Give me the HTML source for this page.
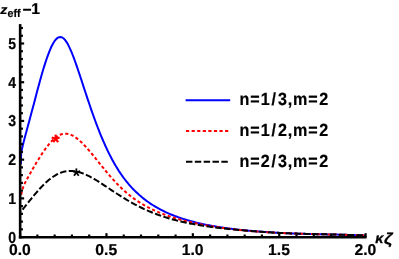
<!DOCTYPE html>
<html><head><meta charset="utf-8"><title>plot</title>
<style>
html,body{margin:0;padding:0;background:#fff;}
body{width:399px;height:259px;overflow:hidden;}
svg{display:block;will-change:transform;}
text{font-family:"Liberation Sans",sans-serif;font-weight:bold;font-size:16px;fill:#000;stroke:#000;stroke-width:0.22px;stroke-linejoin:round;text-rendering:geometricPrecision;}
</style></head><body>
<svg width="399" height="259" viewBox="0 0 399 259">
<rect width="399" height="259" fill="#fff"/>
<g fill="none" stroke-width="2" stroke-linejoin="round">
<path id="cb" stroke="#0000ff" d="M20.90,164.30 L20.93,161.50 L20.98,158.50 L21.08,155.50 L21.25,153.00 L21.50,151.00 L21.90,149.20 L22.57,146.41 L22.76,145.60 L22.96,144.76 L23.17,143.90 L23.39,143.00 L23.62,142.08 L23.86,141.13 L24.12,140.14 L24.38,139.13 L24.65,138.09 L24.94,137.02 L25.23,135.91 L25.54,134.77 L25.85,133.60 L26.17,132.39 L26.51,131.14 L26.86,129.86 L27.21,128.55 L27.58,127.19 L27.95,125.80 L28.34,124.37 L28.74,122.90 L29.86,118.74 L30.99,114.56 L32.12,110.36 L33.24,106.14 L34.37,101.89 L35.50,97.62 L36.62,93.35 L37.75,89.10 L38.88,84.91 L40.00,80.79 L41.13,76.76 L42.26,72.84 L43.38,69.05 L44.51,65.38 L45.64,61.87 L46.76,58.51 L47.89,55.33 L49.02,52.33 L50.14,49.55 L51.27,47.00 L52.40,44.71 L53.52,42.70 L54.65,40.97 L55.78,39.55 L56.90,38.43 L58.03,37.64 L59.16,37.16 L60.28,37.02 L61.41,37.19 L62.54,37.70 L63.66,38.52 L64.79,39.66 L65.92,41.11 L67.04,42.85 L68.17,44.85 L69.30,47.10 L70.42,49.56 L71.55,52.20 L72.68,55.00 L73.80,57.95 L74.93,61.01 L76.06,64.18 L77.18,67.43 L78.31,70.74 L79.44,74.11 L80.56,77.51 L81.69,80.93 L82.82,84.37 L83.94,87.82 L85.07,91.25 L86.20,94.67 L87.32,98.07 L88.45,101.44 L89.58,104.77 L90.70,108.07 L91.83,111.32 L92.96,114.52 L94.08,117.66 L95.21,120.75 L96.34,123.79 L97.46,126.76 L98.59,129.67 L99.72,132.51 L100.84,135.29 L101.97,138.00 L103.10,140.64 L104.22,143.22 L105.35,145.74 L106.48,148.18 L107.60,150.56 L108.73,152.88 L109.85,155.13 L110.98,157.31 L112.11,159.43 L113.23,161.50 L114.36,163.50 L115.49,165.44 L116.61,167.32 L117.74,169.15 L118.87,170.92 L119.99,172.63 L121.12,174.30 L122.25,175.91 L123.37,177.47 L124.50,178.98 L125.63,180.44 L126.75,181.86 L127.88,183.24 L129.01,184.57 L130.13,185.86 L131.26,187.11 L132.39,188.32 L133.51,189.50 L134.64,190.64 L135.77,191.75 L136.89,192.82 L138.02,193.86 L139.15,194.88 L140.27,195.86 L141.40,196.81 L142.53,197.74 L143.65,198.64 L144.78,199.52 L145.91,200.37 L147.03,201.20 L148.16,202.01 L149.29,202.79 L150.41,203.55 L151.54,204.29 L152.67,205.01 L153.79,205.72 L154.92,206.40 L156.05,207.07 L157.17,207.71 L158.30,208.34 L159.43,208.96 L160.55,209.56 L161.68,210.14 L162.81,210.71 L163.93,211.26 L165.06,211.80 L166.19,212.33 L167.31,212.84 L168.44,213.34 L169.57,213.83 L170.69,214.31 L171.82,214.77 L172.95,215.22 L174.07,215.67 L175.20,216.10 L176.33,216.52 L177.45,216.93 L178.58,217.33 L179.71,217.72 L180.83,218.11 L181.96,218.48 L183.09,218.84 L184.21,219.20 L185.34,219.55 L186.47,219.89 L187.59,220.22 L188.72,220.55 L189.85,220.86 L190.97,221.17 L192.10,221.48 L193.23,221.77 L194.35,222.06 L195.48,222.35 L196.61,222.63 L197.73,222.90 L198.86,223.16 L199.99,223.42 L201.11,223.68 L202.24,223.92 L203.37,224.17 L204.49,224.40 L205.62,224.64 L206.75,224.86 L207.87,225.09 L209.00,225.31 L210.12,225.52 L211.25,225.73 L212.38,225.93 L213.50,226.13 L214.63,226.33 L215.76,226.52 L216.88,226.71 L218.01,226.89 L219.14,227.08 L220.26,227.25 L221.39,227.43 L222.52,227.60 L223.64,227.76 L224.77,227.92 L225.90,228.08 L227.02,228.24 L228.15,228.39 L229.28,228.54 L230.40,228.69 L231.53,228.83 L232.66,228.98 L233.78,229.11 L234.91,229.25 L236.04,229.38 L237.16,229.51 L238.29,229.64 L239.42,229.76 L240.54,229.88 L241.67,230.00 L242.80,230.12 L243.92,230.23 L245.05,230.34 L246.18,230.45 L247.30,230.56 L248.43,230.66 L249.56,230.76 L250.68,230.86 L251.81,230.96 L252.94,231.06 L254.06,231.15 L255.19,231.24 L256.32,231.33 L257.44,231.42 L258.57,231.51 L259.70,231.59 L260.82,231.68 L261.95,231.76 L263.08,231.84 L264.20,231.92 L265.33,232.00 L266.46,232.07 L267.58,232.15 L268.71,232.22 L269.84,232.29 L270.96,232.36 L272.09,232.43 L273.22,232.50 L274.34,232.57 L275.47,232.64 L276.60,232.70 L277.72,232.76 L278.85,232.83 L279.98,232.89 L281.10,232.95 L282.23,233.00 L283.36,233.06 L284.48,233.11 L285.61,233.17 L286.74,233.22 L287.86,233.27 L288.99,233.32 L290.12,233.37 L291.24,233.41 L292.37,233.46 L293.50,233.50 L294.62,233.54 L295.75,233.58 L296.88,233.62 L298.00,233.66 L299.13,233.69 L300.26,233.73 L301.38,233.76 L302.51,233.80 L303.64,233.83 L304.76,233.86 L305.89,233.89 L307.02,233.92 L308.14,233.95 L309.27,233.98 L310.40,234.01 L311.52,234.03 L312.65,234.06 L313.78,234.08 L314.90,234.11 L316.03,234.14 L317.15,234.16 L318.28,234.19 L319.41,234.21 L320.53,234.23 L321.66,234.26 L322.79,234.28 L323.91,234.31 L325.04,234.33 L326.17,234.36 L327.29,234.38 L328.42,234.41 L329.55,234.43 L330.67,234.46 L331.80,234.48 L332.93,234.51 L334.05,234.54 L335.18,234.56 L336.31,234.59 L337.43,234.62 L338.56,234.65 L339.69,234.68 L340.81,234.71 L341.94,234.74 L343.07,234.77 L344.19,234.80 L345.32,234.83 L346.45,234.86 L347.57,234.90 L348.70,234.93 L349.83,234.96 L350.95,235.00 L352.08,235.03 L353.21,235.07 L354.33,235.11 L355.46,235.14 L356.59,235.18 L357.71,235.22 L358.84,235.26 L359.97,235.30 L361.09,235.33 L362.22,235.37 L363.35,235.41 L364.47,235.45 L365.60,235.49"/>
<path id="cr" stroke="#ff0000" stroke-dasharray="3.2 2.38" stroke-dashoffset="-1.5" d="M20.89,196.29 L20.90,196.26 L20.92,196.16 L20.94,196.00 L20.98,195.78 L21.02,195.50 L21.08,195.18 L21.15,194.80 L21.22,194.39 L21.31,193.95 L21.41,193.47 L21.52,192.98 L21.64,192.46 L21.77,191.92 L21.91,191.37 L22.05,190.81 L22.21,190.24 L22.38,189.66 L22.57,189.08 L22.76,188.50 L22.96,187.91 L23.17,187.32 L23.39,186.72 L23.62,186.13 L23.86,185.54 L24.12,184.94 L24.38,184.34 L24.65,183.74 L24.94,183.14 L25.23,182.53 L25.54,181.92 L25.85,181.30 L26.17,180.68 L26.51,180.05 L26.86,179.41 L27.21,178.75 L27.58,178.09 L27.95,177.41 L28.34,176.72 L28.74,176.01 L29.86,174.00 L30.99,172.01 L32.12,170.03 L33.24,168.07 L34.37,166.14 L35.50,164.22 L36.62,162.34 L37.75,160.48 L38.88,158.66 L40.00,156.87 L41.13,155.11 L42.26,153.40 L43.38,151.72 L44.51,150.09 L45.64,148.51 L46.76,146.99 L47.89,145.52 L49.02,144.13 L50.14,142.80 L51.27,141.55 L52.40,140.38 L53.52,139.29 L54.65,138.29 L55.78,137.38 L56.90,136.57 L58.03,135.85 L59.16,135.23 L60.28,134.71 L61.41,134.29 L62.54,133.98 L63.66,133.77 L64.79,133.66 L65.92,133.66 L67.04,133.76 L68.17,133.96 L69.30,134.25 L70.42,134.64 L71.55,135.12 L72.68,135.67 L73.80,136.31 L74.93,137.02 L76.06,137.79 L77.18,138.64 L78.31,139.54 L79.44,140.50 L80.56,141.52 L81.69,142.58 L82.82,143.68 L83.94,144.83 L85.07,146.02 L86.20,147.24 L87.32,148.50 L88.45,149.78 L89.58,151.08 L90.70,152.41 L91.83,153.76 L92.96,155.12 L94.08,156.50 L95.21,157.89 L96.34,159.29 L97.46,160.70 L98.59,162.11 L99.72,163.52 L100.84,164.93 L101.97,166.33 L103.10,167.73 L104.22,169.12 L105.35,170.50 L106.48,171.86 L107.60,173.21 L108.73,174.54 L109.85,175.86 L110.98,177.15 L112.11,178.43 L113.23,179.68 L114.36,180.92 L115.49,182.13 L116.61,183.32 L117.74,184.48 L118.87,185.63 L119.99,186.74 L121.12,187.84 L122.25,188.91 L123.37,189.96 L124.50,190.98 L125.63,191.98 L126.75,192.95 L127.88,193.91 L129.01,194.83 L130.13,195.74 L131.26,196.62 L132.39,197.48 L133.51,198.31 L134.64,199.13 L135.77,199.92 L136.89,200.69 L138.02,201.44 L139.15,202.17 L140.27,202.88 L141.40,203.57 L142.53,204.25 L143.65,204.90 L144.78,205.54 L145.91,206.17 L147.03,206.78 L148.16,207.37 L149.29,207.95 L150.41,208.52 L151.54,209.07 L152.67,209.61 L153.79,210.14 L154.92,210.65 L156.05,211.15 L157.17,211.64 L158.30,212.12 L159.43,212.59 L160.55,213.05 L161.68,213.49 L162.81,213.93 L163.93,214.36 L165.06,214.78 L166.19,215.18 L167.31,215.58 L168.44,215.97 L169.57,216.36 L170.69,216.73 L171.82,217.10 L172.95,217.46 L174.07,217.81 L175.20,218.15 L176.33,218.49 L177.45,218.82 L178.58,219.14 L179.71,219.46 L180.83,219.77 L181.96,220.07 L183.09,220.37 L184.21,220.66 L185.34,220.95 L186.47,221.23 L187.59,221.50 L188.72,221.77 L189.85,222.04 L190.97,222.29 L192.10,222.55 L193.23,222.80 L194.35,223.04 L195.48,223.28 L196.61,223.52 L197.73,223.75 L198.86,223.98 L199.99,224.20 L201.11,224.42 L202.24,224.63 L203.37,224.84 L204.49,225.05 L205.62,225.25 L206.75,225.45 L207.87,225.65 L209.00,225.84 L210.12,226.03 L211.25,226.22 L212.38,226.40 L213.50,226.58 L214.63,226.75 L215.76,226.93 L216.88,227.10 L218.01,227.26 L219.14,227.43 L220.26,227.59 L221.39,227.75 L222.52,227.90 L223.64,228.06 L224.77,228.21 L225.90,228.36 L227.02,228.50 L228.15,228.64 L229.28,228.79 L230.40,228.92 L231.53,229.06 L232.66,229.19 L233.78,229.33 L234.91,229.46 L236.04,229.58 L237.16,229.71 L238.29,229.83 L239.42,229.95 L240.54,230.07 L241.67,230.19 L242.80,230.30 L243.92,230.41 L245.05,230.52 L246.18,230.63 L247.30,230.74 L248.43,230.84 L249.56,230.94 L250.68,231.04 L251.81,231.14 L252.94,231.23 L254.06,231.33 L255.19,231.42 L256.32,231.51 L257.44,231.59 L258.57,231.68 L259.70,231.76 L260.82,231.84 L261.95,231.92 L263.08,231.99 L264.20,232.06 L265.33,232.14 L266.46,232.21 L267.58,232.27 L268.71,232.34 L269.84,232.41 L270.96,232.47 L272.09,232.53 L273.22,232.59 L274.34,232.65 L275.47,232.71 L276.60,232.77 L277.72,232.83 L278.85,232.88 L279.98,232.94 L281.10,232.99 L282.23,233.04 L283.36,233.09 L284.48,233.14 L285.61,233.19 L286.74,233.24 L287.86,233.28 L288.99,233.33 L290.12,233.37 L291.24,233.42 L292.37,233.46 L293.50,233.50 L294.62,233.54 L295.75,233.58 L296.88,233.62 L298.00,233.66 L299.13,233.69 L300.26,233.73 L301.38,233.76 L302.51,233.80 L303.64,233.83 L304.76,233.86 L305.89,233.89 L307.02,233.92 L308.14,233.95 L309.27,233.98 L310.40,234.01 L311.52,234.03 L312.65,234.06 L313.78,234.08 L314.90,234.11 L316.03,234.14 L317.15,234.16 L318.28,234.19 L319.41,234.21 L320.53,234.23 L321.66,234.26 L322.79,234.28 L323.91,234.31 L325.04,234.33 L326.17,234.36 L327.29,234.38 L328.42,234.41 L329.55,234.43 L330.67,234.46 L331.80,234.48 L332.93,234.51 L334.05,234.54 L335.18,234.56 L336.31,234.59 L337.43,234.62 L338.56,234.65 L339.69,234.68 L340.81,234.71 L341.94,234.74 L343.07,234.77 L344.19,234.80 L345.32,234.83 L346.45,234.86 L347.57,234.90 L348.70,234.93 L349.83,234.96 L350.95,235.00 L352.08,235.03 L353.21,235.07 L354.33,235.11 L355.46,235.14 L356.59,235.18 L357.71,235.22 L358.84,235.26 L359.97,235.30 L361.09,235.33 L362.22,235.37 L363.35,235.41 L364.47,235.45 L365.60,235.49"/>
<path id="ck" stroke="#000" stroke-dasharray="6.4 2.44" stroke-dashoffset="-2.8" d="M20.89,211.80 L20.90,211.79 L20.92,211.77 L20.94,211.73 L20.98,211.68 L21.02,211.61 L21.08,211.53 L21.15,211.43 L21.22,211.33 L21.31,211.20 L21.41,211.07 L21.52,210.92 L21.64,210.76 L21.77,210.59 L21.91,210.41 L22.05,210.21 L22.21,210.00 L22.38,209.79 L22.57,209.55 L22.76,209.31 L22.96,209.06 L23.17,208.79 L23.39,208.51 L23.62,208.22 L23.86,207.91 L24.12,207.60 L24.38,207.27 L24.65,206.93 L24.94,206.58 L25.23,206.21 L25.54,205.83 L25.85,205.44 L26.17,205.04 L26.51,204.62 L26.86,204.19 L27.21,203.75 L27.58,203.29 L27.95,202.82 L28.34,202.34 L28.74,201.85 L29.86,200.45 L30.99,199.06 L32.12,197.67 L33.24,196.30 L34.37,194.94 L35.50,193.60 L36.62,192.28 L37.75,190.99 L38.88,189.73 L40.00,188.50 L41.13,187.29 L42.26,186.12 L43.38,184.98 L44.51,183.88 L45.64,182.81 L46.76,181.78 L47.89,180.79 L49.02,179.85 L50.14,178.94 L51.27,178.08 L52.40,177.26 L53.52,176.49 L54.65,175.77 L55.78,175.10 L56.90,174.48 L58.03,173.91 L59.16,173.39 L60.28,172.92 L61.41,172.51 L62.54,172.14 L63.66,171.83 L64.79,171.57 L65.92,171.36 L67.04,171.20 L68.17,171.08 L69.30,171.01 L70.42,170.99 L71.55,171.01 L72.68,171.08 L73.80,171.19 L74.93,171.33 L76.06,171.52 L77.18,171.75 L78.31,172.01 L79.44,172.31 L80.56,172.65 L81.69,173.02 L82.82,173.42 L83.94,173.85 L85.07,174.31 L86.20,174.80 L87.32,175.32 L88.45,175.86 L89.58,176.43 L90.70,177.02 L91.83,177.63 L92.96,178.26 L94.08,178.91 L95.21,179.57 L96.34,180.25 L97.46,180.95 L98.59,181.65 L99.72,182.36 L100.84,183.09 L101.97,183.82 L103.10,184.56 L104.22,185.30 L105.35,186.04 L106.48,186.79 L107.60,187.54 L108.73,188.29 L109.85,189.04 L110.98,189.80 L112.11,190.54 L113.23,191.29 L114.36,192.03 L115.49,192.77 L116.61,193.51 L117.74,194.23 L118.87,194.96 L119.99,195.68 L121.12,196.39 L122.25,197.09 L123.37,197.79 L124.50,198.47 L125.63,199.15 L126.75,199.83 L127.88,200.49 L129.01,201.14 L130.13,201.79 L131.26,202.43 L132.39,203.05 L133.51,203.67 L134.64,204.28 L135.77,204.88 L136.89,205.47 L138.02,206.05 L139.15,206.62 L140.27,207.18 L141.40,207.73 L142.53,208.27 L143.65,208.80 L144.78,209.33 L145.91,209.84 L147.03,210.34 L148.16,210.83 L149.29,211.32 L150.41,211.79 L151.54,212.26 L152.67,212.72 L153.79,213.16 L154.92,213.60 L156.05,214.03 L157.17,214.45 L158.30,214.86 L159.43,215.27 L160.55,215.66 L161.68,216.05 L162.81,216.43 L163.93,216.80 L165.06,217.16 L166.19,217.52 L167.31,217.86 L168.44,218.20 L169.57,218.53 L170.69,218.86 L171.82,219.18 L172.95,219.49 L174.07,219.79 L175.20,220.09 L176.33,220.38 L177.45,220.67 L178.58,220.95 L179.71,221.22 L180.83,221.49 L181.96,221.75 L183.09,222.01 L184.21,222.26 L185.34,222.50 L186.47,222.74 L187.59,222.98 L188.72,223.21 L189.85,223.43 L190.97,223.65 L192.10,223.87 L193.23,224.08 L194.35,224.29 L195.48,224.49 L196.61,224.69 L197.73,224.89 L198.86,225.08 L199.99,225.26 L201.11,225.45 L202.24,225.63 L203.37,225.80 L204.49,225.97 L205.62,226.14 L206.75,226.31 L207.87,226.47 L209.00,226.63 L210.12,226.78 L211.25,226.93 L212.38,227.08 L213.50,227.23 L214.63,227.37 L215.76,227.51 L216.88,227.65 L218.01,227.78 L219.14,227.92 L220.26,228.05 L221.39,228.18 L222.52,228.30 L223.64,228.43 L224.77,228.55 L225.90,228.67 L227.02,228.79 L228.15,228.90 L229.28,229.02 L230.40,229.13 L231.53,229.25 L232.66,229.36 L233.78,229.46 L234.91,229.57 L236.04,229.68 L237.16,229.78 L238.29,229.89 L239.42,229.99 L240.54,230.09 L241.67,230.19 L242.80,230.29 L243.92,230.38 L245.05,230.48 L246.18,230.58 L247.30,230.67 L248.43,230.76 L249.56,230.86 L250.68,230.95 L251.81,231.04 L252.94,231.13 L254.06,231.22 L255.19,231.30 L256.32,231.39 L257.44,231.48 L258.57,231.56 L259.70,231.65 L260.82,231.73 L261.95,231.82 L263.08,231.90 L264.20,231.98 L265.33,232.06 L266.46,232.13 L267.58,232.21 L268.71,232.29 L269.84,232.36 L270.96,232.43 L272.09,232.50 L273.22,232.57 L274.34,232.63 L275.47,232.70 L276.60,232.76 L277.72,232.82 L278.85,232.88 L279.98,232.94 L281.10,232.99 L282.23,233.05 L283.36,233.10 L284.48,233.15 L285.61,233.20 L286.74,233.24 L287.86,233.29 L288.99,233.33 L290.12,233.38 L291.24,233.42 L292.37,233.46 L293.50,233.50 L294.62,233.54 L295.75,233.58 L296.88,233.62 L298.00,233.66 L299.13,233.69 L300.26,233.73 L301.38,233.76 L302.51,233.80 L303.64,233.83 L304.76,233.86 L305.89,233.89 L307.02,233.92 L308.14,233.95 L309.27,233.98 L310.40,234.01 L311.52,234.03 L312.65,234.06 L313.78,234.08 L314.90,234.11 L316.03,234.14 L317.15,234.16 L318.28,234.19 L319.41,234.21 L320.53,234.23 L321.66,234.26 L322.79,234.28 L323.91,234.31 L325.04,234.33 L326.17,234.36 L327.29,234.38 L328.42,234.41 L329.55,234.43 L330.67,234.46 L331.80,234.48 L332.93,234.51 L334.05,234.54 L335.18,234.56 L336.31,234.59 L337.43,234.62 L338.56,234.65 L339.69,234.68 L340.81,234.71 L341.94,234.74 L343.07,234.77 L344.19,234.80 L345.32,234.83 L346.45,234.86 L347.57,234.90 L348.70,234.93 L349.83,234.96 L350.95,235.00 L352.08,235.03 L353.21,235.07 L354.33,235.11 L355.46,235.14 L356.59,235.18 L357.71,235.22 L358.84,235.26 L359.97,235.30 L361.09,235.33 L362.22,235.37 L363.35,235.41 L364.47,235.45 L365.60,235.49"/>
</g>
<g stroke="#ff0000" stroke-width="2.2" stroke-linecap="butt"><line x1="55.66" y1="138.75" x2="55.66" y2="134.60"/><line x1="55.66" y1="138.75" x2="59.61" y2="137.47"/><line x1="55.66" y1="138.75" x2="58.10" y2="142.11"/><line x1="55.66" y1="138.75" x2="53.22" y2="142.11"/><line x1="55.66" y1="138.75" x2="51.71" y2="137.47"/></g>
<g stroke="#000" stroke-width="1.8" stroke-linecap="butt"><line x1="76.36" y1="172.45" x2="76.36" y2="168.45"/><line x1="76.36" y1="172.45" x2="80.16" y2="171.21"/><line x1="76.36" y1="172.45" x2="78.71" y2="175.69"/><line x1="76.36" y1="172.45" x2="74.01" y2="175.69"/><line x1="76.36" y1="172.45" x2="72.56" y2="171.21"/></g>
<g stroke="#000" stroke-width="2.2"><line x1="20.15" y1="237.10" x2="24.15" y2="237.10"/><line x1="20.15" y1="229.36" x2="22.95" y2="229.36"/><line x1="20.15" y1="221.61" x2="22.95" y2="221.61"/><line x1="20.15" y1="213.87" x2="22.95" y2="213.87"/><line x1="20.15" y1="206.12" x2="22.95" y2="206.12"/><line x1="20.15" y1="198.38" x2="24.15" y2="198.38"/><line x1="20.15" y1="190.64" x2="22.95" y2="190.64"/><line x1="20.15" y1="182.89" x2="22.95" y2="182.89"/><line x1="20.15" y1="175.15" x2="22.95" y2="175.15"/><line x1="20.15" y1="167.40" x2="22.95" y2="167.40"/><line x1="20.15" y1="159.66" x2="24.15" y2="159.66"/><line x1="20.15" y1="151.92" x2="22.95" y2="151.92"/><line x1="20.15" y1="144.17" x2="22.95" y2="144.17"/><line x1="20.15" y1="136.43" x2="22.95" y2="136.43"/><line x1="20.15" y1="128.68" x2="22.95" y2="128.68"/><line x1="20.15" y1="120.94" x2="24.15" y2="120.94"/><line x1="20.15" y1="113.20" x2="22.95" y2="113.20"/><line x1="20.15" y1="105.45" x2="22.95" y2="105.45"/><line x1="20.15" y1="97.71" x2="22.95" y2="97.71"/><line x1="20.15" y1="89.96" x2="22.95" y2="89.96"/><line x1="20.15" y1="82.22" x2="24.15" y2="82.22"/><line x1="20.15" y1="74.48" x2="22.95" y2="74.48"/><line x1="20.15" y1="66.73" x2="22.95" y2="66.73"/><line x1="20.15" y1="58.99" x2="22.95" y2="58.99"/><line x1="20.15" y1="51.24" x2="22.95" y2="51.24"/><line x1="20.15" y1="43.50" x2="24.15" y2="43.50"/><line x1="20.15" y1="35.76" x2="22.95" y2="35.76"/><line x1="20.15" y1="28.01" x2="22.95" y2="28.01"/><line x1="20.10" y1="237.1" x2="20.10" y2="233.2"/><line x1="37.38" y1="237.1" x2="37.38" y2="234.5"/><line x1="54.65" y1="237.1" x2="54.65" y2="234.5"/><line x1="71.93" y1="237.1" x2="71.93" y2="234.5"/><line x1="89.20" y1="237.1" x2="89.20" y2="234.5"/><line x1="106.47" y1="237.1" x2="106.47" y2="233.2"/><line x1="123.75" y1="237.1" x2="123.75" y2="234.5"/><line x1="141.03" y1="237.1" x2="141.03" y2="234.5"/><line x1="158.30" y1="237.1" x2="158.30" y2="234.5"/><line x1="175.57" y1="237.1" x2="175.57" y2="234.5"/><line x1="192.85" y1="237.1" x2="192.85" y2="233.2"/><line x1="210.12" y1="237.1" x2="210.12" y2="234.5"/><line x1="227.40" y1="237.1" x2="227.40" y2="234.5"/><line x1="244.68" y1="237.1" x2="244.68" y2="234.5"/><line x1="261.95" y1="237.1" x2="261.95" y2="234.5"/><line x1="279.23" y1="237.1" x2="279.23" y2="233.2"/><line x1="296.50" y1="237.1" x2="296.50" y2="234.5"/><line x1="313.78" y1="237.1" x2="313.78" y2="234.5"/><line x1="331.05" y1="237.1" x2="331.05" y2="234.5"/><line x1="348.33" y1="237.1" x2="348.33" y2="234.5"/><line x1="365.60" y1="237.1" x2="365.60" y2="233.2"/></g>
<g stroke="#000" stroke-width="2.6">
<line x1="20.15" y1="24.1" x2="20.15" y2="238.5"/>
<line x1="18.849999999999998" y1="237.2" x2="366.6" y2="237.2"/>
</g>
<g><text transform="translate(16.2,242.60) scale(0.89,1)" text-anchor="end" style="font-size:15.8px">0</text><text transform="translate(16.2,203.88) scale(0.89,1)" text-anchor="end" style="font-size:15.8px">1</text><text transform="translate(16.2,165.16) scale(0.89,1)" text-anchor="end" style="font-size:15.8px">2</text><text transform="translate(16.2,126.44) scale(0.89,1)" text-anchor="end" style="font-size:15.8px">3</text><text transform="translate(16.2,87.72) scale(0.89,1)" text-anchor="end" style="font-size:15.8px">4</text><text transform="translate(16.2,49.00) scale(0.89,1)" text-anchor="end" style="font-size:15.8px">5</text><text x="19.90" y="255.4" text-anchor="middle" style="font-size:15.7px">0.0</text><text x="106.27" y="255.4" text-anchor="middle" style="font-size:15.7px">0.5</text><text x="192.65" y="255.4" text-anchor="middle" style="font-size:15.7px">1.0</text><text x="279.03" y="255.4" text-anchor="middle" style="font-size:15.7px">1.5</text><text x="365.40" y="255.4" text-anchor="middle" style="font-size:15.7px">2.0</text></g>
<text transform="translate(0.3,14.1) scale(1.09,1)" font-style="italic" style="font-size:13px">z</text>
<text transform="translate(7.6,17.0) scale(0.96,1)" style="font-size:11.1px">eff</text>
<text x="22.5" y="15.1" style="font-size:15.6px">−</text>
<text x="31.3" y="14.2" style="font-size:15.7px">1</text>
<text x="375.2" y="243.3" font-style="italic" style="font-size:14.4px;stroke-width:0.3px">κ</text>
<text transform="translate(383.9,243.5) scale(1.1,1)" font-style="italic" style="font-size:15.8px;stroke-width:0.3px">ζ</text>
<g fill="none" stroke-width="2">
<line x1="185.6" y1="100.2" x2="230.2" y2="100.2" stroke="#0000ff"/>
<line x1="186" y1="131" x2="228.4" y2="131" stroke="#ff0000" stroke-dasharray="3.2 2.38"/>
<line x1="186" y1="161.8" x2="228" y2="161.8" stroke="#000" stroke-dasharray="6.4 2.44"/>
</g>
<text transform="translate(239.4,104.9) scale(0.915,1)" dx="0 0 0 0.8 1.1 -0.3 -0.3 -0.3 0.8" style="font-size:17.6px;letter-spacing:1.15px">n=1/3,m=2</text>
<text transform="translate(239.4,135.7) scale(0.915,1)" dx="0 0 0 0.8 1.1 -0.3 -0.3 -0.3 0.8" style="font-size:17.6px;letter-spacing:1.15px">n=1/2,m=2</text>
<text transform="translate(239.4,166.5) scale(0.915,1)" dx="0 0 0 0.8 1.1 -0.3 -0.3 -0.3 0.8" style="font-size:17.6px;letter-spacing:1.15px">n=2/3,m=2</text>
</svg>
</body></html>
